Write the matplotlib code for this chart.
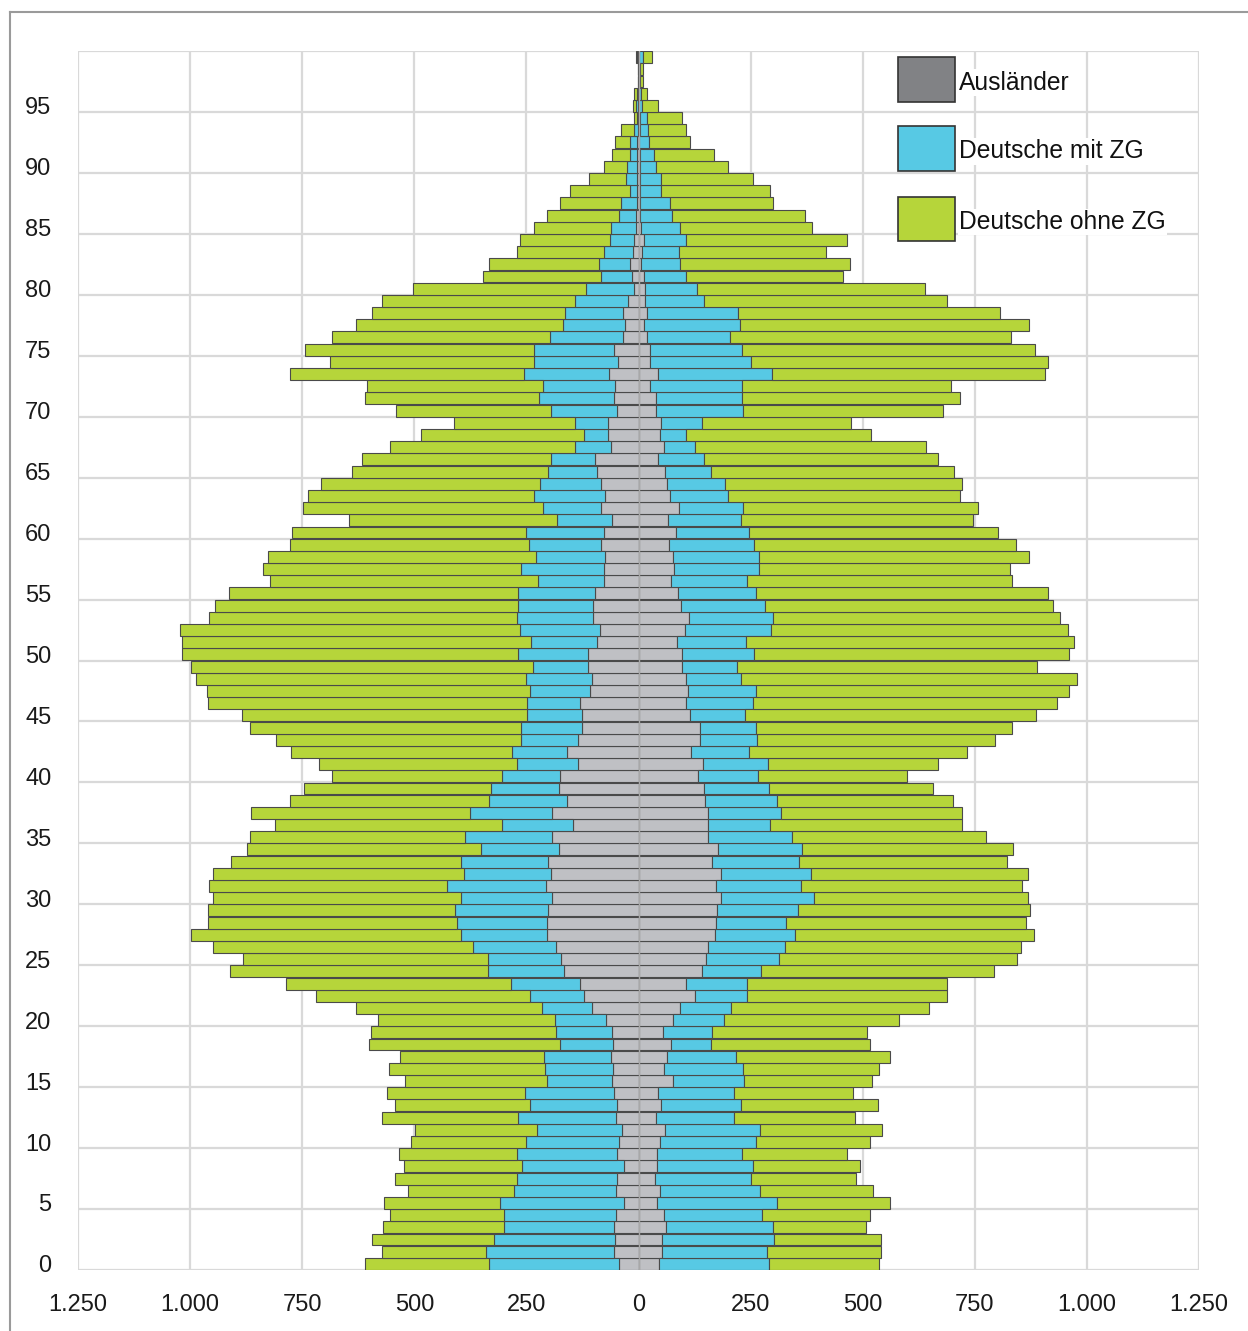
import matplotlib
matplotlib.use("Agg")
import matplotlib.pyplot as plt
from matplotlib.patches import Rectangle
from matplotlib.lines import Line2D
import numpy as np

plt.rcParams['font.family'] = ['Liberation Sans', 'DejaVu Sans']

ages = list(range(100))

# Left side (values per age 0..99)
left_auslaender = [43, 55, 52, 55, 51, 33, 51, 47, 33, 47,
                   44, 37, 51, 49, 55, 59, 57, 62, 57, 59,
                   73, 103, 122, 130, 167, 173, 184, 203, 203, 201,
                   193, 207, 195, 202, 177, 194, 146, 192, 160, 178,
                   174, 134, 160, 135, 127, 127, 131, 109, 103, 113,
                   113, 92, 85, 101, 102, 96, 78, 76, 75, 83,
                   76, 58, 83, 75, 83, 92, 96, 62, 68, 67,
                   47, 55, 52, 65, 45, 55, 35, 29, 35, 23,
                   10, 14, 18, 12, 9, 5, 5, 4, 3, 3,
                   4, 3, 3, 2, 1, 2, 1, 0, 0, 1]
left_mit_zg = [291, 286, 270, 246, 248, 275, 227, 225, 226, 225,
               206, 190, 217, 194, 198, 146, 152, 149, 117, 125,
               114, 113, 119, 155, 169, 163, 184, 193, 201, 209,
               203, 221, 195, 194, 175, 194, 158, 184, 174, 150,
               130, 138, 123, 128, 136, 122, 118, 134, 149, 123,
               155, 147, 180, 171, 167, 172, 147, 187, 153, 162,
               174, 123, 131, 158, 137, 109, 99, 79, 54, 74,
               148, 166, 161, 191, 187, 178, 162, 140, 130, 119,
               108, 69, 69, 64, 55, 57, 38, 34, 15, 24,
               21, 17, 15, 8, 3, 4, 3, 1, 1, 2]
left_ohne_zg = [275, 232, 272, 268, 255, 260, 235, 270, 265, 263,
                257, 271, 304, 299, 307, 315, 348, 320, 426, 412,
                395, 415, 479, 502, 576, 547, 582, 601, 556, 551,
                553, 529, 558, 513, 522, 479, 507, 489, 443, 419,
                379, 441, 493, 545, 603, 636, 710, 719, 734, 761,
                751, 780, 758, 685, 676, 646, 597, 574, 599, 533,
                522, 464, 535, 504, 489, 438, 421, 413, 362, 270,
                346, 390, 392, 521, 457, 511, 487, 460, 430, 429,
                386, 264, 247, 194, 201, 170, 162, 136, 135, 83,
                53, 40, 35, 28, 5, 7, 5, 1, 1, 2]

# Right side (values per age 0..99)
right_auslaender = [45, 52, 53, 62, 56, 42, 49, 36, 42, 42,
                    47, 60, 40, 50, 43, 78, 56, 63, 73, 54,
                    78, 93, 125, 106, 142, 150, 154, 170, 172, 176,
                    185, 172, 183, 165, 178, 154, 154, 154, 148, 145,
                    132, 143, 118, 138, 138, 114, 106, 110, 106, 97,
                    98, 85, 103, 113, 94, 87, 73, 80, 77, 69,
                    83, 65, 90, 71, 63, 58, 43, 56, 48, 50,
                    39, 38, 25, 43, 25, 26, 19, 12, 20, 14,
                    14, 12, 6, 8, 12, 6, 4, 4, 4, 4,
                    4, 4, 2, 3, 3, 2, 1, 1, 1, 2]
right_mit_zg = [245, 234, 250, 238, 219, 267, 221, 214, 213, 189,
                215, 210, 174, 178, 171, 157, 176, 155, 88, 111,
                112, 113, 118, 137, 132, 163, 173, 179, 158, 179,
                206, 190, 201, 192, 186, 189, 139, 164, 160, 147,
                134, 145, 128, 126, 123, 123, 149, 152, 122, 123,
                159, 155, 192, 186, 188, 174, 169, 188, 191, 188,
                164, 163, 142, 129, 129, 103, 102, 71, 57, 91,
                195, 192, 206, 254, 226, 205, 185, 214, 201, 133,
                117, 95, 87, 83, 94, 87, 70, 67, 47, 47,
                34, 30, 22, 19, 15, 6, 4, 2, 2, 8]
right_ohne_zg = [247, 254, 237, 207, 242, 251, 254, 234, 239, 233,
                 254, 272, 268, 306, 265, 285, 305, 342, 356, 345,
                 390, 441, 446, 444, 518, 530, 526, 534, 535, 517,
                 478, 494, 485, 465, 472, 433, 429, 403, 394, 364,
                 333, 381, 486, 532, 571, 650, 679, 697, 749, 669,
                 702, 732, 662, 642, 643, 653, 592, 560, 602, 585,
                 554, 517, 526, 516, 530, 543, 524, 514, 414, 334,
                 445, 488, 467, 610, 662, 653, 627, 645, 586, 541,
                 507, 350, 379, 328, 360, 295, 298, 230, 243, 205,
                 161, 135, 91, 85, 80, 36, 13, 7, 7, 21]

series_names = ["Ausländer", "Deutsche mit ZG", "Deutsche ohne ZG"]
x_ticks = [-1250, -1000, -750, -500, -250, 0, 250, 500, 750, 1000, 1250]
x_labels = ["1.250", "1.000", "750", "500", "250", "0", "250", "500", "750", "1.000", "1.250"]
y_ticks = list(range(0, 100, 5))

col_gray = "#bfc0c4"
col_gray_legend = "#818285"
col_blue = "#57c9e4"
col_green = "#b6d53a"
edge = "#4a4a4a"

W, H = 1248, 1331
fig = plt.figure(figsize=(W / 100, H / 100), dpi=100)
ax = fig.add_axes([78 / W, 1 - 1270 / H, (1199 - 78) / W, (1270 - 51) / H])

y = np.array(ages)
la = np.array(left_auslaender)
lb = np.array(left_mit_zg)
lc = np.array(left_ohne_zg)
ra = np.array(right_auslaender)
rb = np.array(right_mit_zg)
rc = np.array(right_ohne_zg)

h = 0.98
kw = dict(height=h, edgecolor=edge, linewidth=0.8, zorder=3)
ax.barh(y, -la, color=col_gray, **kw)
ax.barh(y, -lb, left=-la, color=col_blue, **kw)
ax.barh(y, -lc, left=-(la + lb), color=col_green, **kw)
ax.barh(y, ra, color=col_gray, **kw)
ax.barh(y, rb, left=ra, color=col_blue, **kw)
ax.barh(y, rc, left=ra + rb, color=col_green, **kw)

ax.set_xlim(-1250, 1250)
ax.set_ylim(-0.5, 99.5)

grid_c = "#d9d9d9"
for xv in x_ticks:
    ax.axvline(xv, color=grid_c, linewidth=1.6, zorder=1)
for yv in np.arange(-0.5, 100, 5):
    ax.axhline(yv, color=grid_c, linewidth=1.6, zorder=1)
ax.axvline(0, color="#a8a8a8", linewidth=1.0, zorder=5)

for s in ax.spines.values():
    s.set_visible(False)

ax.set_xticks(x_ticks)
ax.set_xticklabels(x_labels)
ax.set_yticks(y_ticks)
ax.set_yticklabels([str(v) for v in y_ticks])
ax.tick_params(axis='both', length=0, labelsize=17, colors="#1a1a1a")
ax.tick_params(axis='y', pad=19)
ax.tick_params(axis='x', pad=17)

# Legend
leg_items = [(57, 102, col_gray_legend), (126, 171, col_blue), (197, 241, col_green)]
for (top, bot, c), name in zip(leg_items, series_names):
    fig.patches.append(Rectangle((898 / W, 1 - bot / H), (955 - 898) / W, (bot - top) / H,
                                 transform=fig.transFigure, facecolor=c,
                                 edgecolor="#333333", linewidth=1.2, zorder=10))
    fig.text(959 / W, 1 - ((top + bot) / 2 + 3) / H, name, fontsize=17.7, va='center', ha='left',
             color="#111111", zorder=10,
             bbox=dict(facecolor='white', edgecolor='none', pad=1))

# Outer frame lines
fig.add_artist(Line2D([10 / W, 1.0], [1 - 12 / H, 1 - 12 / H], transform=fig.transFigure,
                      color="#9a9a9a", linewidth=1.5))
fig.add_artist(Line2D([10 / W, 10 / W], [1 - 12 / H, 0.0], transform=fig.transFigure,
                      color="#9a9a9a", linewidth=1.5))

fig.savefig("out.png", dpi=100, facecolor="white")
